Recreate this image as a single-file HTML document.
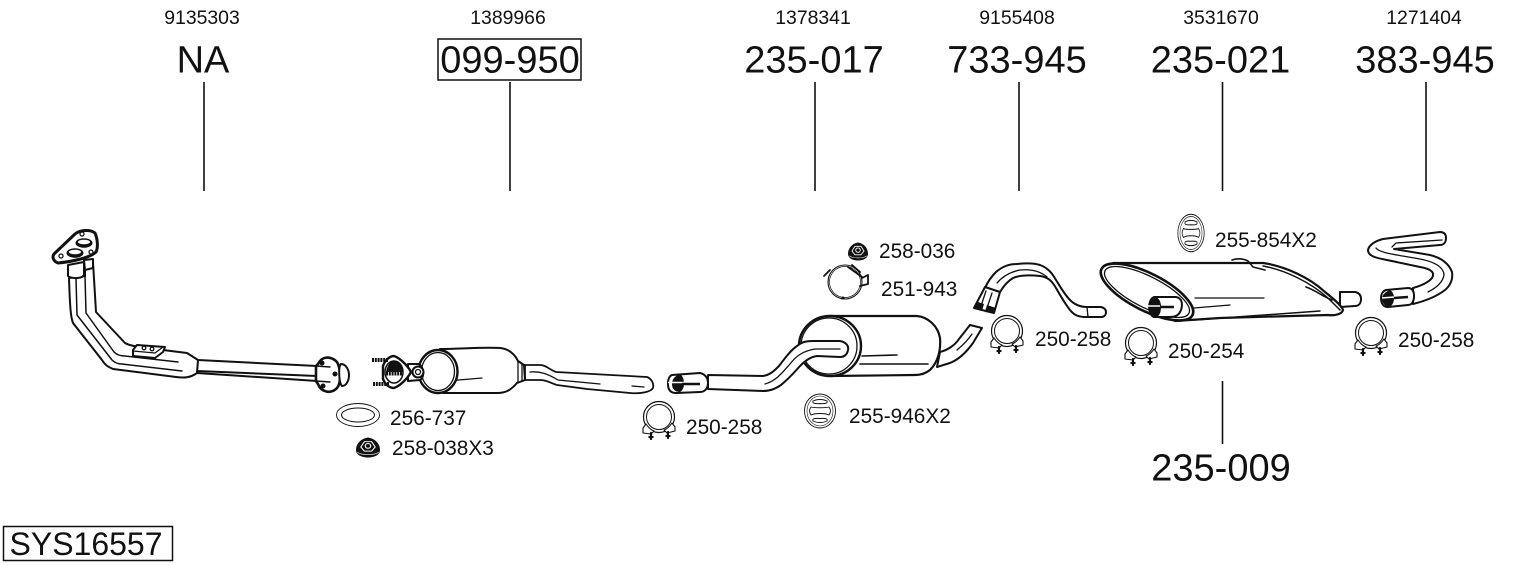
<!DOCTYPE html>
<html><head><meta charset="utf-8">
<style>
html,body{margin:0;padding:0;background:#fff;width:1530px;height:566px;overflow:hidden}
svg{display:block}
text{font-family:"Liberation Sans",Arial,sans-serif;fill:#111}
.t{font-size:19.4px;text-anchor:middle}
.b{font-size:38px;text-anchor:middle}
.l{font-size:20.8px}
.p{fill:#fff;stroke:#111;stroke-linejoin:round;stroke-linecap:round}
.p:not([stroke-width]){stroke-width:2}
.n{fill:none;stroke:#111;stroke-linecap:round;stroke-linejoin:round}
.n:not([stroke-width]){stroke-width:1.3}
.k{fill:#111;stroke:none}
</style></head><body>
<svg width="1530" height="566" viewBox="0 0 1530 566" xmlns="http://www.w3.org/2000/svg">
<defs>
<g id="clamp">
<circle class="p" cx="0" cy="-1" r="15.500" stroke-width="1.200"/>
<circle class="n" cx="0" cy="-1" r="12.500" stroke-width="1"/>
<path class="p" stroke-width="1.100" d="M-13 6L-16 10L-16 15L-8 16L-5 13C-8 12 -11 9 -13 6Z"/>
<path class="p" stroke-width="1.100" d="M13 5L16 9L16 13L8 15L5 12C8 11 11 8 13 5Z"/>
<path class="n" stroke-width="2.200" d="M-8 15V21M9 14V20"/>
<rect class="k" x="-10.500" y="18" width="5" height="2"/><rect class="k" x="6.500" y="17" width="5" height="2"/>
</g>
<g id="hanger">
<ellipse class="p" cx="0" cy="0" rx="15.500" ry="17" stroke-width=".9"/>
<ellipse class="n" cx="0" cy="0" rx="13" ry="15" stroke-width=".6"/>
<path class="n" stroke-width=".9" d="M-7 -10C-3 -12 3 -12 7 -10C8 -8 6 -7 0 -7.500C-6 -7 -8 -8 -7 -10Z"/>
<path class="n" stroke-width=".9" d="M-7 10C-3 12 3 12 7 10C8 8 6 7 0 7.500C-6 7 -8 8 -7 10Z"/>
<path class="n" stroke-width=".9" d="M-9 -4C-5 -3 5 -3 9 -4C11 -1 11 1 9 4C5 2 -5 2 -9 4C-11 1 -11 -1 -9 -4Z"/>
</g>
<g id="nut">
<path class="k" d="M-10 2C-10 -4 -6 -9 0 -10C6 -9 10 -4 10 2C10 6 6 9 0 9C-6 9 -10 6 -10 2Z"/>
<path fill="none" stroke="#fff" stroke-width=".9" d="M-6 -1L-3 -6L3 -6L6 -1L3 3L-3 3Z"/>
<circle cy="-2" r="2.300" fill="none" stroke="#fff" stroke-width=".9"/>
<path fill="none" stroke="#fff" stroke-width=".6" d="M-9 4C-5 7 5 7 9 4"/>
</g>
</defs>

<text class="t" x="202" y="24">9135303</text>
<text class="t" x="508" y="24">1389966</text>
<text class="t" x="813" y="24">1378341</text>
<text class="t" x="1017" y="24">9155408</text>
<text class="t" x="1221" y="24">3531670</text>
<text class="t" x="1424" y="24">1271404</text>

<text class="b" x="203" y="72.500">NA</text>
<rect x="438" y="39" width="143" height="41" fill="#fff" stroke="#111" stroke-width="1.500"/>
<text class="b" x="510" y="72.500">099-950</text>
<text class="b" x="814" y="72.500">235-017</text>
<text class="b" x="1017" y="72.500">733-945</text>
<text class="b" x="1220.500" y="72.500">235-021</text>
<text class="b" x="1425" y="72.500">383-945</text>
<text class="b" x="1221" y="480.500">235-009</text>

<g stroke="#111" stroke-width="1.600">
<path d="M204 82V191M510 82V191M815 82V191M1019 82V191M1222.500 82V191M1426 82V191M1222.500 381V444"/>
</g>

<rect x="3.500" y="526.500" width="169" height="34" fill="#fff" stroke="#111" stroke-width="1.500"/>
<text x="9.500" y="555" style="font-size:32px">SYS16557</text>

<text class="l" x="390" y="425">256-737</text>
<text class="l" x="392" y="455">258-038X3</text>
<text class="l" x="686" y="434">250-258</text>
<text class="l" x="849" y="423">255-946X2</text>
<text class="l" x="879" y="258">258-036</text>
<text class="l" x="881" y="296">251-943</text>
<text class="l" x="1035" y="346">250-258</text>
<text class="l" x="1168" y="358">250-254</text>
<text class="l" x="1215" y="247">255-854X2</text>
<text class="l" x="1398" y="347">250-258</text>

<!-- Front pipe -->
<g>
<path class="p" d="M85 262L93 262L96 312L125 343C130 346 135 346 140 347L163 350L187 353L198 360L317 366V381L197 373C190 378 184 378 176 377L113 369C108 367 105 365 102 360L73 323C71 318 70 310 69 278L85 276Z"/>
<path class="n" stroke-width="1.500" d="M76 278L77 315L112 360C115 363 118 364 122 364L182 371M85 276L86 313L114 352C117 355 120 356 125 356L178 362"/>
<path class="n" stroke-width="2" d="M197 373L198 360M197 371L317 376"/>
<path class="p" d="M68 265L84 262L84 274C84 279 72 279 68 276Z"/>
<path class="p" d="M84 260L93 259L93 268L85 270Z"/>
<path class="p" d="M133 350L137 345L165 347L163 352L155 358L133 356Z"/>
<path class="n" d="M155 353L163 347M155 353L133 351"/>
<circle class="n" cx="144" cy="348" r="1.800"/><circle class="n" cx="152" cy="349" r="1.800"/>
<path class="p" stroke-width="3" d="M54 254L75 234C80 230 90 229 95 233C98 240 98 248 96 252C90 258 70 262 58 263C53 261 52 257 54 254Z"/>
<ellipse class="k" cx="84" cy="243" rx="8.500" ry="4.800"/><ellipse cx="84" cy="242" rx="6" ry="2.300" fill="#fff"/>
<ellipse class="k" cx="75" cy="253" rx="8.500" ry="4.800"/><ellipse cx="75" cy="252" rx="6" ry="2.300" fill="#fff"/>
<circle class="n" cx="82" cy="234" r="2"/><circle class="n" cx="91" cy="252" r="2"/><circle class="n" cx="61" cy="256" r="2"/>
<path class="p" stroke-width="2.600" d="M318 364C322 356 330 356 336 361C341 366 342 384 336 389C330 394 321 392 318 384L316 381L316 366Z"/>
<circle class="k" cx="322" cy="363" r="2.500"/><circle class="k" cx="335" cy="374" r="2.500"/><circle class="k" cx="323" cy="386" r="2.500"/>
<path class="p" d="M341 364C346 364 349 370 349 375C349 381 346 386 342 386C339 383 338 367 341 364Z"/>
<path class="n" stroke-width="1.500" d="M316 366L330 367M316 381L330 382"/>
</g>

<!-- Catalyst -->
<g>
<path class="p" stroke-width="1.800" d="M525 365L540 365C546 365 550 370 556 372L647 377C652 379 654 384 653 388C651 392 640 394 630 393L587 389L557 385C550 383 547 380 540 380L525 380Z"/>
<path class="n" d="M530 372C540 371 548 374 558 380L600 384M632 386L644 387"/>
<path class="p" d="M440 349C460 349 480 347 500 348C510 349 515 355 518 361L524 365L525 380L517 383C510 391 505 393 497 393L443 393Z"/>
<path class="n" d="M518 361L518 383M522 364L522 381M447 381L482 378"/>
<ellipse class="p" cx="438" cy="371.500" rx="19.500" ry="21.500" stroke-width="2.400"/>
<ellipse class="n" cx="438" cy="371.500" rx="16.500" ry="19"/>
<path class="p" d="M408 364L418 364C424 365 425 378 420 380L408 381Z"/>
<circle class="p" cx="418" cy="372" r="5.500"/><circle class="n" cx="418" cy="372" r="2.500"/>
<path class="p" stroke-width="2.400" d="M383 366C385 360 390 356 394 356C400 358 408 366 411 372C408 378 400 386 394 388C389 388 385 384 383 379Z"/>
<ellipse class="p" cx="394" cy="372" rx="9" ry="11" stroke-width="1.500"/>
<path class="k" d="M394 361C400 361 403 367 403 372L386 372C387 366 390 361 394 361Z"/>
<path d="M372 360H388M373 384H389M386 373.500H402" stroke="#111" stroke-width="4" stroke-dasharray="2 .8"/>
</g>

<!-- Middle silencer and pipes -->
<g>
<path class="p" d="M940 352C948 350 955 345 959 339L970 325L982 328L973 343C968 350 960 359 950 363L937 367Z"/>
<path class="n" d="M957 350C963 345 968 340 972 334"/>
<path class="p" d="M830 316L917 316C928 317 938 326 940 338C941 350 938 362 930 370C925 374 920 375 915 375L830 376Z" stroke-width="2.200"/>
<path class="n" stroke-width="1.600" d="M862 356L897 355M860 364L928 364"/>
<ellipse class="p" cx="830" cy="346" rx="31" ry="30" stroke-width="2.400"/>
<ellipse class="n" cx="829" cy="346" rx="28" ry="28"/>
<path class="p" d="M708 375L763 376C770 375 774 371 779 366C785 358 791 350 797 346C803 341 808 341 815 341L840 341C846 342 849 346 848 350C847 355 844 357 840 357L817 356C810 357 805 361 800 366C793 374 787 380 781 385C775 389 770 391 763 391L708 389Z"/>
<path class="n" d="M765 384C776 381 782 373 790 364C796 356 803 351 815 349L840 349"/>
<path class="p" d="M672 375L700 373C705 374 708 378 708 383C708 388 705 392 700 392L676 393C670 393 668 389 668 384C668 380 669 376 672 375Z"/>
<path class="k" d="M680 374C675 376 672 379 672 384C672 389 675 392 680 392C683 390 684 387 684 384C684 380 683 376 680 374Z"/>
<path d="M668 382.500L684 382.500" stroke="#fff" stroke-width="1.500"/>
<path d="M682 384L700 384" stroke="#111" stroke-width="2.500"/>
</g>

<!-- Intermediate pipe -->
<g>
<path class="p" d="M985 288C988 281 991 277 996 272C1002 267 1008 264 1017 264C1026 263 1034 263 1040 265C1048 268 1052 273 1056 280C1061 288 1065 295 1070 300C1074 304 1080 307 1087 307L1101 307C1105 308 1106 310 1106 312C1106 315 1104 317 1101 317L1086 317C1078 317 1074 315 1070 310C1066 305 1060 295 1056 288C1052 281 1048 277 1040 276C1030 275 1020 275 1013 278C1008 281 1003 287 1000 292Z"/>
<path class="n" d="M1087 307L1088 317M997 283C1003 276 1010 272 1020 270C1030 269 1040 271 1047 277"/>
<path class="p" d="M985 287L1000 292L994 313L974 308Z"/>
<path class="k" d="M978 302L984 304L982 311L974 308Z"/>
<path class="k" d="M987 305L996 308L994 313L985 312Z"/>
<path class="n" d="M986 291L982 303M992 293L988 305"/>
</g>

<!-- Rear silencer -->
<g>
<path class="p" d="M1340 292L1355 292C1360 293 1361 296 1361 299C1361 303 1359 306 1355 306L1340 307Z"/>
<path class="p" d="M1113 263L1220 263L1263 263C1285 266 1310 278 1325 292C1335 300 1342 306 1343 310C1342 314 1335 316 1328 315L1220 318L1175 321Z" stroke-width="2.200"/>
<path class="n" stroke-width="1.500" d="M1263 266C1285 270 1310 282 1328 298L1340 310M1194 320L1320 311"/>
<path class="n" stroke-width="1.600" d="M1232 260C1238 258 1244 259 1248 261L1253 267L1265 270M1306 287C1315 290 1322 296 1332 300"/>
<path class="n" d="M1195 298L1264 298M1194 308L1230 305"/>
<ellipse class="p" cx="1147" cy="292" rx="51" ry="18.500" transform="rotate(27 1147 292)" stroke-width="2.600"/>
<ellipse cx="1147" cy="292" rx="47" ry="15.500" transform="rotate(27 1147 292)" fill="#fff" stroke="#111" stroke-width="1.300"/>
<path class="p" d="M1154 297L1176 297C1182 298 1183 304 1181 310C1179 315 1176 317 1170 317L1154 317C1148 315 1147 300 1154 297Z"/>
<path class="k" d="M1156 297C1151 299 1149 303 1149 307C1149 312 1152 316 1157 317C1160 315 1161 311 1161 307C1161 303 1160 299 1156 297Z"/>
<path d="M1148 306L1160 306" stroke="#fff" stroke-width="1.500"/>
<path d="M1160 307L1174 307" stroke="#111" stroke-width="2.500"/>
</g>

<!-- Tail pipe -->
<g>
<path class="p" d="M1413 288C1420 286 1428 283 1432 278C1435 273 1432 269 1420 267L1387 260C1376 258 1368 256 1368 250C1369 245 1375 241 1383 239L1440 232C1445 232 1446 235 1446 238C1446 242 1444 245 1440 245L1394 249L1430 255C1442 258 1449 264 1452 272C1453 279 1451 285 1445 290C1436 297 1425 301 1413 304Z"/>
<path class="n" d="M1392 247L1396 243L1442 240M1376 248C1380 253 1392 254 1420 259C1436 262 1444 268 1444 275C1443 281 1438 287 1428 292"/>
<path class="p" d="M1386 290L1408 288C1413 288 1414 292 1414 296C1414 301 1412 305 1408 305L1388 307C1383 307 1381 303 1381 298C1381 294 1383 291 1386 290Z"/>
<path class="k" d="M1390 290C1385 292 1382 295 1382 299C1382 303 1385 307 1390 307C1393 304 1394 302 1394 298C1394 295 1393 292 1390 290Z"/>
<path d="M1382 298L1394 297" stroke="#fff" stroke-width="1.500"/>
<path d="M1394 298L1408 297" stroke="#111" stroke-width="2.500"/>
</g>

<!-- Small parts -->
<ellipse class="p" cx="358" cy="415" rx="21.500" ry="11.500" stroke-width=".9"/>
<ellipse class="n" cx="358" cy="415" rx="16.500" ry="7" stroke-width="1"/>
<use href="#nut" transform="translate(368 448) scale(1.200 1.050)"/>
<use href="#nut" transform="translate(858 252) scale(1 .95)"/>
<use href="#clamp" transform="translate(659 418)"/>
<use href="#clamp" transform="translate(1007 332)"/>
<use href="#clamp" transform="translate(1141 344)"/>
<use href="#clamp" transform="translate(1371 334)"/>
<use href="#hanger" transform="translate(820 411)"/>
<use href="#hanger" transform="translate(1191 233) scale(.85 1.100)"/>
<!-- V-band clamp -->
<circle class="n" cx="845" cy="282" r="17" stroke-width="1.100"/>
<circle class="n" cx="845" cy="282" r="15.500" stroke-width=".7"/>
<path class="n" stroke-width="1.800" d="M824 276L830 270M848 267L862 277M862 278L868 275L868 284L860 286M852 265L860 272"/>
<circle class="k" cx="843" cy="298" r="1.500"/>
</svg>
</body></html>
